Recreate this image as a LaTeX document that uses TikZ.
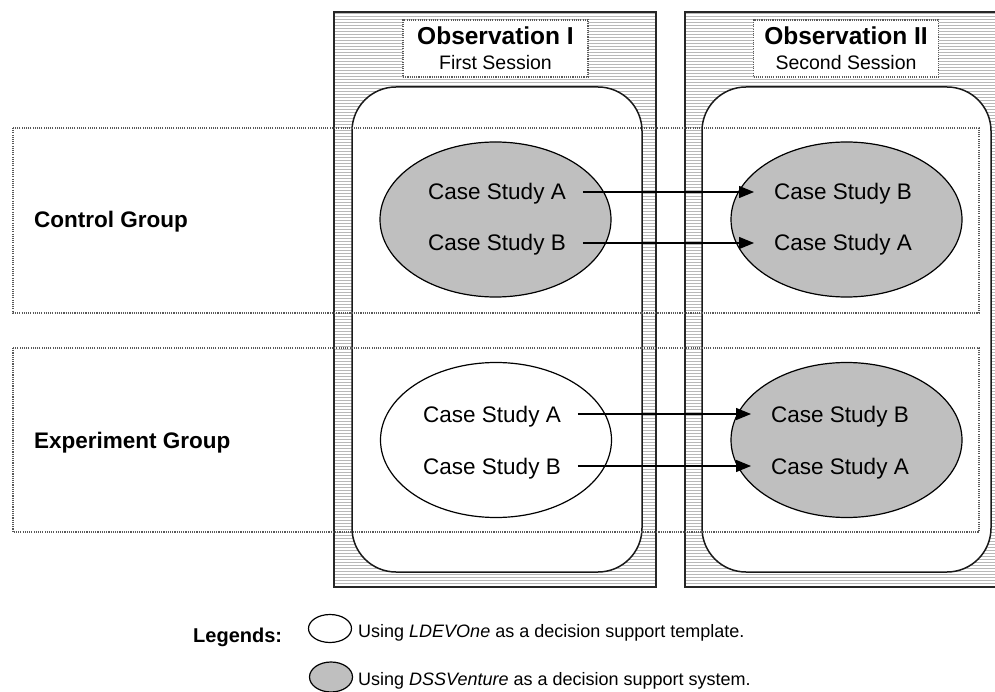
\documentclass[tikz,border=0pt]{standalone}
\usepackage{fontspec}
\setmainfont{Liberation Sans}
\usetikzlibrary{shapes.geometric,arrows.meta}
\begin{document}
\begin{tikzpicture}[x=1pt,y=-1pt,
  hatch/.style={draw=black!28,line width=0.7pt},
  colframe/.style={draw=black!85,line width=1.5pt},
  sessionbox/.style={draw=black!90,line width=1.5pt,rounded corners=44pt,fill=white},
  dotbox/.style={draw=black!65,line width=1.1pt,dash pattern=on 1.1pt off 1.1pt},
  titlebox/.style={dotbox,fill=white,minimum width=185pt,minimum height=57pt,inner sep=0pt},
  titletext/.style={font=\bfseries\fontsize{24.5}{28}\selectfont,inner sep=0pt,anchor=base},
  subtext/.style={font=\fontsize{19.5}{23}\selectfont,inner sep=0pt,anchor=base},
  casetext/.style={font=\fontsize{22.5}{26}\selectfont,inner sep=0pt,anchor=base},
  grouplabel/.style={font=\bfseries\fontsize{22.5}{27}\selectfont,inner sep=0pt,anchor=base west},
  casebubble/.style={ellipse,draw=black,line width=1.2pt,minimum width=231pt,minimum height=155pt,inner sep=0pt},
  usedss/.style={fill=black!25},
  useldev/.style={fill=white},
  flow/.style={-{Triangle[length=15pt,width=12pt]},line width=1.2pt},
  legendmark/.style={ellipse,draw=black,line width=1.2pt,minimum width=43pt,minimum height=28pt,inner sep=0pt},
  legendtext/.style={font=\fontsize{18}{22}\selectfont,inner sep=0pt,anchor=base west},
  legendhead/.style={font=\bfseries\fontsize{20}{24}\selectfont,inner sep=0pt,anchor=base west}
]
\useasboundingbox (0,0) rectangle (995,692);

% ---- Observation I column ----
\begin{scope}
  \clip (334,12) rectangle (656,587);
  \foreach \y in {13,16,...,586} \draw[hatch] (334,\y) -- (656,\y);
\end{scope}
\draw[colframe] (334,12) rectangle (656,587);
\draw[sessionbox] (352,87) rectangle (642,572);

% ---- Observation II column ----
\begin{scope}
  \clip (685,12) rectangle (996,587);
  \foreach \y in {13,16,...,586} \draw[hatch] (685,\y) -- (996,\y);
\end{scope}
\draw[colframe] (998,12) -- (685,12) -- (685,587) -- (998,587);
\draw[sessionbox] (702,87) rectangle (991,572);

% ---- titles ----
\node[titlebox] (tb1) at (495.5,48.5) {};
\node[titletext] (t1) at (495.5,45) {Observation I};
\node[subtext] (s1) at (495.5,70) {First Session};
\node[titlebox] (tb2) at (846,48.5) {};
\node[titletext] (t2) at (846,45) {Observation II};
\node[subtext] (s2) at (846,70) {Second Session};

% ---- group rows ----
\draw[dotbox] (13,128) rectangle (979,313);
\draw[dotbox] (13,348) rectangle (979,532);
\node[grouplabel] (cg) at (34,228) {Control Group};
\node[grouplabel] (eg) at (34,448) {Experiment Group};

% ---- ellipses ----
\node[casebubble,usedss] (c1) at (495.5,219.5) {};
\node[casebubble,usedss] (c2) at (846.5,219.5) {};
\node[casebubble,useldev] (e1) at (496,440) {};
\node[casebubble,usedss] (e2) at (846.5,440) {};

% ---- case texts ----
\node[casetext] (c1a) at (497,200) {Case Study A};
\node[casetext] (c1b) at (497,251) {Case Study B};
\node[casetext] (c2b) at (843,200) {Case Study B};
\node[casetext] (c2a) at (843,251) {Case Study A};
\node[casetext] (e1a) at (492,422) {Case Study A};
\node[casetext] (e1b) at (492,474) {Case Study B};
\node[casetext] (e2b) at (840,422) {Case Study B};
\node[casetext] (e2a) at (840,474) {Case Study A};

% ---- arrows ----
\draw[flow] ([xshift=17pt,yshift=8pt]c1a.base east) -- ([xshift=-20pt,yshift=8pt]c2b.base west);
\draw[flow] ([xshift=17pt,yshift=8pt]c1b.base east) -- ([xshift=-20pt,yshift=8pt]c2a.base west);
\draw[flow] ([xshift=17pt,yshift=8pt]e1a.base east) -- ([xshift=-20pt,yshift=8pt]e2b.base west);
\draw[flow] ([xshift=17pt,yshift=8pt]e1b.base east) -- ([xshift=-20pt,yshift=8pt]e2a.base west);

% ---- legend ----
\node[legendhead] (lh) at (193,642) {Legends:};
\node[legendmark,fill=white] (lm1) at (330,628.5) {};
\node[legendmark,fill=black!25,minimum height=30pt] (lm2) at (331,677) {};
\node[legendtext] (lt1) at (358,637) {Using \textit{LDEVOne} as a decision support template.};
\node[legendtext] (lt2) at (358,685) {Using \textit{DSSVenture} as a decision support system.};
\end{tikzpicture}
\end{document}
